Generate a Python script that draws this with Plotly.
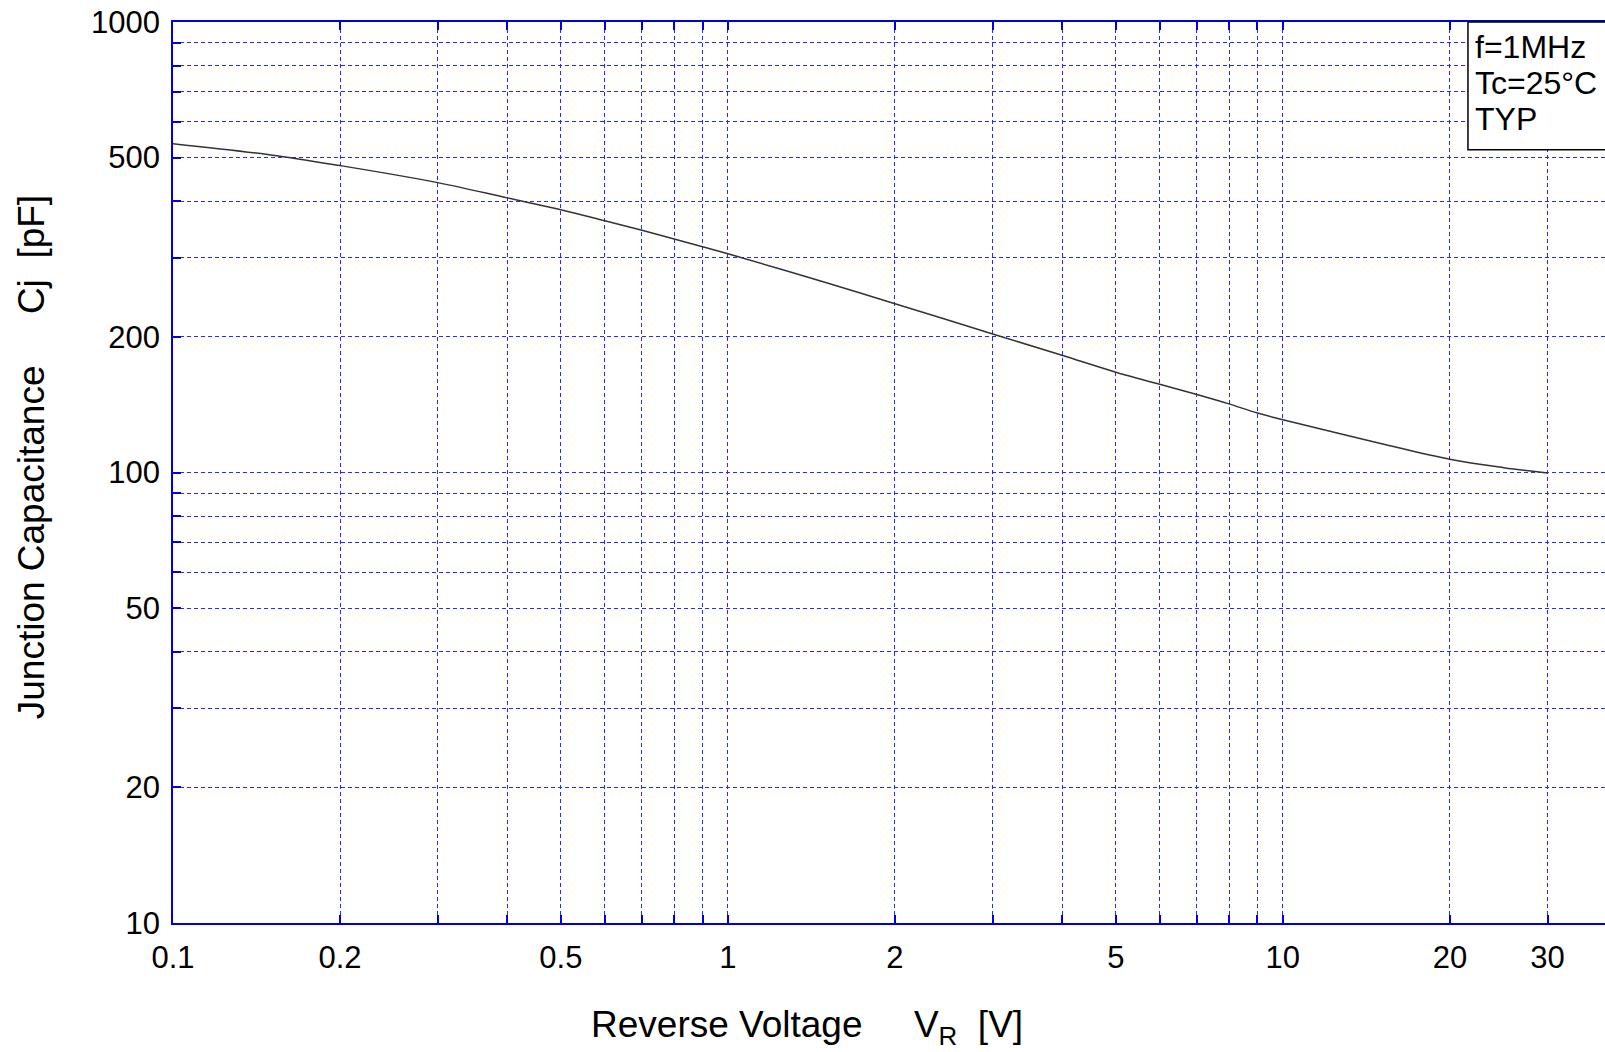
import plotly.graph_objects as go

# Data
voltage = [0.1, 0.15, 0.2, 0.3, 0.4, 0.5, 0.6, 0.7, 0.8, 0.9, 1.0, 1.5, 2.0, 3.0,
           4.0, 5.0, 6.0, 7.0, 8.0, 9.0, 10.0, 15.0, 20.0, 25.0, 30.0]
capacitance = [537, 507, 480, 440, 407, 383, 362, 345, 330, 317, 306, 264, 237, 203,
               182, 167, 157, 149, 142, 135.5, 131, 116, 107, 102.5, 99.7]

x_label_vals = [0.1, 0.2, 0.5, 1, 2, 5, 10, 20, 30]
y_label_vals = [10, 20, 50, 100, 200, 500, 1000]

x_grid_vals = [0.1, 0.2, 0.3, 0.4, 0.5, 0.6, 0.7, 0.8, 0.9,
               1, 2, 3, 4, 5, 6, 7, 8, 9, 10, 20, 30]
y_grid_vals = [10, 20, 30, 40, 50, 60, 70, 80, 90,
               100, 200, 300, 400, 500, 600, 700, 800, 900, 1000]

x_ticktext = [("%g" % v) if v in x_label_vals else "" for v in x_grid_vals]
y_ticktext = [("%g" % v) if v in y_label_vals else "" for v in y_grid_vals]

annot_lines = ["f=1MHz", "Tc=25°C", "TYP"]

W, H = 1605, 1052
plot_left, plot_top, plot_bottom = 173.3, 22.3, 923.5
ML, MT, MR = plot_left, plot_top, 0
MB = H - plot_bottom
PW = W - ML - MR
PH = H - MT - MB
px_per_decade_x = 554.8

def pxp(px):  # page x -> paper
    return (px - ML) / PW

def pyp(py):  # page y -> paper
    return (plot_bottom - py) / PH

fig = go.Figure()
fig.add_trace(go.Scatter(x=voltage, y=capacitance, mode="lines",
                         line=dict(color="#333333", width=1.5, shape="spline"),
                         showlegend=False, hoverinfo="skip"))

grid_color = "rgb(40,40,255)"
axis_color = "rgb(0,0,220)"
font_family = "Liberation Sans, Arial, sans-serif"

fig.update_xaxes(type="log",
                 range=[-1, -1 + PW / px_per_decade_x],
                 tickvals=x_grid_vals, ticktext=x_ticktext,
                 showgrid=True, gridcolor=grid_color, gridwidth=1, griddash="4px,3px",
                 showline=True, linecolor=axis_color, linewidth=1.5, mirror="ticks",
                 ticks="inside", ticklen=8, tickcolor=axis_color, tickwidth=1.5,
                 tickfont=dict(family=font_family, size=31, color="black"),
                 ticklabelstandoff=6, zeroline=False)
fig.update_yaxes(type="log",
                 range=[1, 3],
                 tickvals=y_grid_vals, ticktext=y_ticktext,
                 showgrid=True, gridcolor=grid_color, gridwidth=1, griddash="4px,3px",
                 showline=True, linecolor=axis_color, linewidth=1.5, mirror=False,
                 ticks="inside", ticklen=8, tickcolor=axis_color, tickwidth=1.5,
                 tickfont=dict(family=font_family, size=31, color="black"),
                 ticklabelstandoff=5, zeroline=False)

# Condition box (white filled, covers grid)
fig.add_shape(type="rect", xref="paper", yref="paper",
              x0=pxp(1468), x1=1.02, y0=pyp(150), y1=1.0,
              line=dict(color="black", width=1.5), fillcolor="white", layer="above")

for txt, yc in zip(annot_lines, [47, 83, 119]):
    fig.add_annotation(text=txt, xref="paper", yref="paper",
                       x=pxp(1473), y=pyp(yc),
                       xanchor="left", yanchor="middle", showarrow=False,
                       font=dict(family=font_family, size=32, color="black"))

nb = "\u00a0"
fig.add_annotation(text="Reverse Voltage" + nb * 5 + "V<sub>R</sub>" + nb * 2 + "[V]",
                   xref="paper", yref="paper",
                   x=pxp(807), y=pyp(1028),
                   xanchor="center", yanchor="middle", showarrow=False,
                   font=dict(family=font_family, size=37, color="black"))
fig.add_annotation(text="Junction Capacitance" + nb * 5 + "Cj" + nb * 2 + "[pF]",
                   xref="paper", yref="paper",
                   x=pxp(32), y=pyp(458),
                   xanchor="center", yanchor="middle", showarrow=False, textangle=-90,
                   font=dict(family=font_family, size=37, color="black"))

fig.update_layout(width=W, height=H,
                  margin=dict(l=ML, r=MR, t=MT, b=MB, pad=0),
                  paper_bgcolor="white", plot_bgcolor="white",
                  showlegend=False)

fig.write_html("out.html", config={"displayModeBar": False},
               post_script="document.body.style.margin='0';document.body.style.overflow='hidden';")
